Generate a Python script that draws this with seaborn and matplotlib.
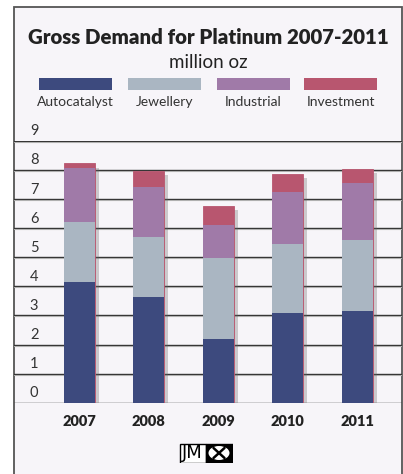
import matplotlib
matplotlib.use("Agg")
import matplotlib.pyplot as plt
import matplotlib.patheffects as pe
from matplotlib.patches import Rectangle, Ellipse
import seaborn as sns
import pandas as pd

# values (million oz)
years = ["2007", "2008", "2009", "2010", "2011"]
autocatalyst = [4.14, 3.64, 2.19, 3.07, 3.16]
jewellery = [2.09, 2.05, 2.78, 2.39, 2.44]
industrial = [1.84, 1.72, 1.14, 1.77, 1.95]
investment = [0.16, 0.55, 0.66, 0.65, 0.50]

segments = ["Autocatalyst", "Jewellery", "Industrial", "Investment"]
colors = ["#3d4a7e", "#aab6c2", "#a07aa8", "#b8566f"]

W, H = 403, 474

sns.set_style("white")
plt.rcParams["font.family"] = ["Lato", "DejaVu Sans"]

# long table with cumulative tops for stacking
rows = []
for i, yr in enumerate(years):
    top = 0
    for seg, vals in zip(segments, [autocatalyst, jewellery, industrial, investment]):
        top += vals[i]
        rows.append({"year": yr, "segment": seg, "value": vals[i], "top": top})
df = pd.DataFrame(rows)

fig = plt.figure(figsize=(W / 100, H / 100), dpi=100)
fig.patch.set_facecolor("white")

# outer panel
fig.patches.append(Rectangle((14 / W, -0.05), (402 - 14) / W, 1 - 7 / H + 0.05,
                             transform=fig.transFigure, fc="#f7f5f9", ec="#555555",
                             lw=1.3, zorder=-5))

ax = fig.add_axes([14 / W, 1 - 402.7 / H, 388 / W, (402.7 - 141) / H])
ax.set_facecolor("none")

# draw tallest layer first so lower layers overlay it
for k in range(len(segments) - 1, -1, -1):
    sub = df[df["segment"] == segments[k]]
    n_before = len(ax.patches)
    outer = k == len(segments) - 1
    sns.barplot(data=sub, x="year", y="top", color=colors[k], saturation=1,
                width=0.446, ax=ax, edgecolor="#b8566f" if outer else "none",
                linewidth=0.6 if outer else 0, zorder=3)
    if outer:
        for p in ax.patches[n_before:]:
            p.set_path_effects([pe.SimplePatchShadow(offset=(3, -3), shadow_rgbFace="#666666", alpha=0.3),
                                pe.Normal()])

ax.set_xlim(-0.942, 4.647)
ax.set_ylim(0, 9)
ax.set_xlabel("")
ax.set_ylabel("")
ax.set_yticks([])
for s in ax.spines.values():
    s.set_visible(False)

for v in range(10):
    ax.axhline(v, color="#2f2f2f", lw=1.0, zorder=1)
    ax.axhline(v - 0.035, color="#b0b0b0", lw=0.8, zorder=1)
    ax.text(0.041, v + 0.09, str(v), transform=ax.get_yaxis_transform(),
            ha="left", va="bottom", fontsize=10.5, color="#333333")

ax.tick_params(axis="x", length=0, pad=9)
for lbl in ax.get_xticklabels():
    lbl.set_fontweight("heavy")
    lbl.set_fontsize(10.5)
    lbl.set_color("#222222")

# title
fig.text(208 / W, 1 - 37 / H, "Gross Demand for Platinum 2007-2011", ha="center", va="center",
         fontsize=14.7, fontweight="heavy", color="#222222")
fig.text(208 / W, 1 - 62 / H, "million oz", ha="center", va="center",
         fontsize=13.5, color="#222222")

# legend: swatch above label
swatch_x = [39, 128, 217, 304]
for x0, seg, c in zip(swatch_x, segments, colors):
    fig.patches.append(Rectangle((x0 / W, 1 - 90 / H), 73 / W, 12 / H,
                                 transform=fig.transFigure, fc=c, ec="none"))
    fig.text((x0 + 36.5) / W, 1 - 102 / H, seg, ha="center", va="center",
             fontsize=10, color="#333333")

# JM logo
lg = fig.add_axes([179 / W, 1 - 463 / H, 54 / W, 20 / H])
lg.set_xlim(0, 54)
lg.set_ylim(0, 20)
lg.axis("off")
lg.add_patch(Rectangle((0.5, 0.5), 26, 19, fc="white", ec="black", lw=1))
lg.add_patch(Rectangle((26.5, 0.5), 27, 19, fc="black", ec="black", lw=1))
lg.text(13.5, 9.5, "JM", ha="center", va="center", fontsize=13, color="black",
        family="DejaVu Sans")
lg.add_patch(Ellipse((40, 10), 21, 14, fc="white", ec="none"))
lg.plot([34.5, 45.5], [5, 15], color="black", lw=1.8)
lg.plot([34.5, 45.5], [15, 5], color="black", lw=1.8)

fig.savefig("out.png", dpi=100)
